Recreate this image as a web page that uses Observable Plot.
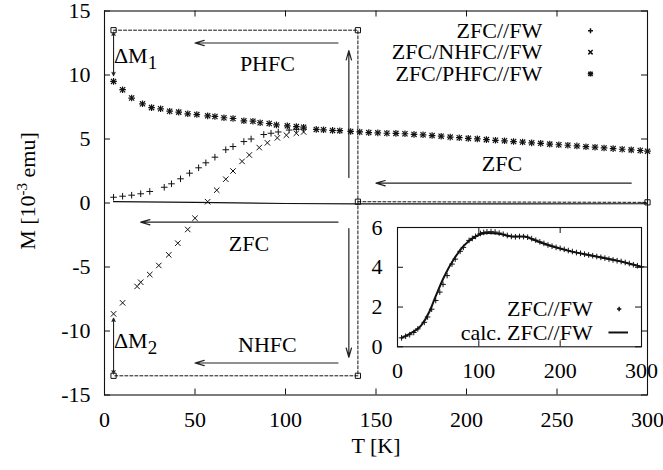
<!DOCTYPE html>
<html><head><meta charset="utf-8">
<script src="https://cdn.jsdelivr.net/npm/d3@7"></script>
<script src="https://cdn.jsdelivr.net/npm/@observablehq/plot@0.6"></script>
<style>
body{margin:0;background:#fff}
#wrap{position:relative;width:663px;height:470px}
#inset{position:absolute;left:356.7px;top:216.7px}
</style>
</head><body><div id="wrap"></div>
<script>
// ---- tick values ----
const xTicks = [0, 50, 100, 150, 200, 250, 300];
const yTicks = [-15, -10, -5, 0, 5, 10, 15];
const insetXTicks = [0, 100, 200, 300];
const insetYTicks = [0, 2, 4, 6];

// ---- series names ----
const seriesNames = ["ZFC//FW", "ZFC/NHFC//FW", "ZFC/PHFC//FW"];
const insetNames = ["ZFC//FW", "calc. ZFC//FW"];

// ---- ZFC//FW (measured, +) ----
const zfcT = [5,10,15,20,25,33,37,42,47,52,56,61,67,71,77,81,88,92,96,102,106,110,
  115,120,125,130,135,140,145,150,155,160,165,170,175,180,185,190,195,200,205,210,215,220,
  225,230,235,240,245,250,255,260,265,270,275,280,285,290,295,300];
const zfcM = [0.45,0.53,0.61,0.72,0.9,1.23,1.5,1.89,2.33,2.75,3.14,3.58,4.16,4.41,4.8,5.0,5.35,5.45,5.55,5.7,5.75,5.78,
  5.79,5.77,5.72,5.66,5.6,5.55,5.53,5.55,5.54,5.51,5.44,5.36,5.28,5.2,5.12,5.06,5.0,4.95,4.9,4.84,4.79,4.74,
  4.7,4.66,4.62,4.58,4.54,4.5,4.46,4.41,4.37,4.33,4.29,4.24,4.19,4.13,4.08,4.02];

// ---- ZFC/NHFC//FW (x) ----
const nhfcT = [5,10,18,20,25,30,35.5,40.5,46,50,57,62,67,71,76,80,85.5,90,95.5,100.5,106,110];
const nhfcM = [-8.66,-7.8,-6.52,-6.19,-5.59,-4.88,-4.05,-3.14,-2.07,-1.19,0.1,1.0,1.86,2.5,3.25,3.75,4.33,4.7,5.09,5.3,5.45,5.55];

// ---- ZFC/PHFC//FW (asterisk) ----
const phfcT = [5,10,15,21,26,31,36,41,46,51,57,61,66,71,77,82,86,91,95,101,106,110,117,121,126,130,136,141,146,151,
  156,161,166,171,176,181,186,191,196,201,206,211,216,221,226,231,236,241,246,251,256,261,266,271,276,281,286,291,296,300];
const phfcM = [9.5,8.85,8.2,7.75,7.45,7.36,7.17,7.1,6.97,6.91,6.81,6.76,6.66,6.6,6.42,6.39,6.27,6.21,6.1,6.03,5.97,5.92,5.75,5.72,5.67,5.65,5.59,5.55,5.5,5.48,
  5.45,5.44,5.41,5.36,5.33,5.27,5.22,5.15,5.1,5.05,5.01,4.95,4.9,4.86,4.8,4.76,4.7,4.66,4.6,4.55,4.51,4.46,4.4,4.36,4.3,4.25,4.2,4.15,4.1,4.05];

// ---- solid near-zero line ----
const baseT = [5, 50, 100, 140, 200, 300];
const baseM = [0.1, 0.05, -0.04, -0.07, -0.07, -0.06];

// ---- calculated ZFC//FW (inset line) ----
const calcT = [5,16,29,39,47,57,70,82,94,111,127,141,156,168,188,213,246,275,300];
const calcM = [0.45,0.68,1.06,1.75,2.55,3.5,4.45,5.1,5.5,5.72,5.67,5.55,5.55,5.37,5.08,4.8,4.53,4.29,4.02];

// ---- dashed guide path (field history), in data units ----
const guideSeg = ["a","a","a","a","b","b"];
const guideT = [5, 140, 140, 5, 140, 300];
const guideM = [13.5, 13.5, -13.5, -13.5, 0.1, 0.05];
const cornerT = [5, 140, 140, 300, 5, 140];
const cornerM = [13.5, 13.5, 0.1, 0.05, -13.5, -13.5];

// ---- annotation arrows (data units) ----
const arrowT1 = [129, 291, 129, 129, 135, 135];
const arrowM1 = [12.5, 1.55, -1.5, -12.5, 2.0, -2.0];
const arrowT2 = [50, 150, 20, 50, 135, 135];
const arrowM2 = [12.5, 1.55, -1.5, -12.5, 11.9, -12.05];
// small double arrows for ΔM
const dArrowT1 = [5, 5, 5, 5];
const dArrowM1 = [11.6, 11.6, -11.2, -11.2];
const dArrowM2 = [13.35, 9.95, -9.0, -13.35];

// ---- annotation labels ----
const labelText = ["PHFC", "ZFC", "ZFC", "NHFC"];
const labelT = [90, 219.6, 79.8, 90];
const labelM = [10.9, 3.06, -3.19, -11.1];
const deltaText = ["ΔM_{1}", "ΔM_{2}"];
const deltaT = [5.2, 5.2];
const deltaM = [11.45, -10.75];

// ---- legend placement (data units) ----
const legTextT = 241.8, legMarkT = 268.5;
const legM = [13.45, 11.78, 10.09];
const insLegTextT = 240, insLegMarkT = 272.5;
const insLegM = [1.9, 0.72];
const insLegLineT = [260, 284];

// ---- helpers ----
const rows = (T, M) => T.map((t, i) => ({T: t, M: M[i]}));
const plusSym = {draw(c, s) { const r = Math.sqrt(s / Math.PI); c.moveTo(-r, 0); c.lineTo(r, 0); c.moveTo(0, -r); c.lineTo(0, r); }};
const timesSym = {draw(c, s) { const r = Math.sqrt(s / Math.PI) * 0.72; c.moveTo(-r, -r); c.lineTo(r, r); c.moveTo(-r, r); c.lineTo(r, -r); }};
const squareSym = {draw(c, s) { const r = Math.sqrt(s / Math.PI); c.moveTo(-r, -r); c.lineTo(r, -r); c.lineTo(r, r); c.lineTo(-r, r); c.closePath(); }};

const FONT = {fontFamily: "'Liberation Serif', 'Times New Roman', serif", fontSize: "22px", color: "#000", background: "transparent", overflow: "visible"};
const INK = "#111";
const fmt = d => String(d);

function inwardTicks(xt, yt, fw, fh, len) {
  return [
    Plot.tickX(xt, {x: d => d, insetTop: fh - len, stroke: INK}),
    Plot.tickX(xt, {x: d => d, insetBottom: fh - len, stroke: INK}),
    Plot.tickY(yt, {y: d => d, insetRight: fw - len, stroke: INK}),
    Plot.tickY(yt, {y: d => d, insetLeft: fw - len, stroke: INK})
  ];
}

// ---- main chart ----
const W = 663, H = 470, mL = 104, mR = 16, mT = 10.5, mB = 75.5;
const fw = W - mL - mR, fh = H - mT - mB;

const zfcMain = rows(zfcT, zfcM).filter(d => d.T <= 112);
const nhfc = rows(nhfcT, nhfcM);
const phfc = rows(phfcT, phfcM);
const arrows = arrowT1.map((t, i) => ({x1: t, y1: arrowM1[i], x2: arrowT2[i], y2: arrowM2[i]}));
const dArrows = dArrowT1.map((t, i) => ({x1: t, y1: dArrowM1[i], x2: t, y2: dArrowM2[i]}));
const guide = guideT.map((t, i) => ({T: t, M: guideM[i], s: guideSeg[i]}));
const corners = rows(cornerT, cornerM);
const labels = labelText.map((s, i) => ({s, T: labelT[i], M: labelM[i]}));
const deltas = deltaText.map((s, i) => ({s, T: deltaT[i], M: deltaM[i]}));
const legend = seriesNames.map((s, i) => ({s, M: legM[i]}));

const main = Plot.plot({
  width: W, height: H, marginLeft: mL, marginRight: mR, marginTop: mT, marginBottom: mB,
  x: {domain: [0, 300]}, y: {domain: [-15, 15]},
  style: FONT,
  marks: [
    Plot.frame({stroke: INK, strokeWidth: 1.1}),
    ...inwardTicks(xTicks, yTicks, fw, fh, 6),
    Plot.axisX({ticks: xTicks, tickSize: 0, tickPadding: 16, tickFormat: fmt, label: null}),
    Plot.axisY({ticks: yTicks, tickSize: 0, tickPadding: 14, tickFormat: fmt, label: null}),
    Plot.text(["M [10^{-3} emu]"], {text: d => d, frameAnchor: "left", textAnchor: "middle", lineAnchor: "middle", dx: -77, dy: -12, rotate: -90}),
    Plot.text(["T [K]"], {text: d => d, frameAnchor: "bottom", textAnchor: "middle", lineAnchor: "middle", dy: 50.5}),
    Plot.line(rows(baseT, baseM), {x: "T", y: "M", stroke: INK, strokeWidth: 1.2}),
    Plot.line(guide, {x: "T", y: "M", z: "s", stroke: INK, strokeWidth: 1, strokeDasharray: "3,2"}),
    Plot.dot(corners, {x: "T", y: "M", symbol: squareSym, r: 2.6, stroke: INK, fill: "none", strokeWidth: 1}),
    Plot.arrow(arrows, {x1: "x1", y1: "y1", x2: "x2", y2: "y2", bend: 0, headLength: 12, headAngle: 32, stroke: "#222", strokeWidth: 1.2}),
    Plot.arrow(dArrows, {x1: "x1", y1: "y1", x2: "x2", y2: "y2", bend: 0, headLength: 5, headAngle: 50, stroke: "#222", strokeWidth: 1.1}),
    Plot.text(labels, {x: "T", y: "M", text: "s"}),
    Plot.text(deltas, {x: "T", y: "M", text: "s", textAnchor: "start"}),
    Plot.dot(zfcMain, {x: "T", y: "M", symbol: plusSym, r: 3.3, stroke: INK, fill: "none", strokeWidth: 1}),
    Plot.dot(nhfc, {x: "T", y: "M", symbol: timesSym, r: 3.8, stroke: INK, fill: "none", strokeWidth: 1}),
    Plot.dot(phfc, {x: "T", y: "M", symbol: plusSym, r: 3.3, stroke: INK, fill: "none", strokeWidth: 1.2}),
    Plot.dot(phfc, {x: "T", y: "M", symbol: timesSym, r: 3.6, stroke: INK, fill: "none", strokeWidth: 1.2}),
    Plot.text(legend, {x: () => legTextT, y: "M", text: "s", textAnchor: "end"}),
    Plot.dot(legend.slice(0, 1), {x: () => legMarkT, y: "M", symbol: plusSym, r: 2.5, stroke: INK, fill: "none"}),
    Plot.dot(legend.slice(1, 2), {x: () => legMarkT, y: "M", symbol: timesSym, r: 3.0, stroke: INK, fill: "none"}),
    Plot.dot(legend.slice(2, 3), {x: () => legMarkT, y: "M", symbol: plusSym, r: 2.7, stroke: INK, fill: "none"}),
    Plot.dot(legend.slice(2, 3), {x: () => legMarkT, y: "M", symbol: timesSym, r: 3.0, stroke: INK, fill: "none"})
  ]
});

// ---- inset ----
const iW = 300, iH = 170, iL = 40, iR = 16, iT = 10, iB = 40.7;
const ifw = iW - iL - iR, ifh = iH - iT - iB;
const insLeg = insetNames.map((s, i) => ({s, M: insLegM[i]}));
const inset = Plot.plot({
  width: iW, height: iH, marginLeft: iL, marginRight: iR, marginTop: iT, marginBottom: iB,
  x: {domain: [0, 300]}, y: {domain: [0, 6]},
  style: FONT,
  marks: [
    Plot.frame({stroke: INK, strokeWidth: 1.1}),
    ...inwardTicks(insetXTicks, insetYTicks, ifw, ifh, 6),
    Plot.axisX({ticks: insetXTicks, tickSize: 0, tickPadding: 15.5, tickFormat: fmt, label: null}),
    Plot.axisY({ticks: insetYTicks, tickSize: 0, tickPadding: 15, tickFormat: fmt, label: null}),
    Plot.line(rows(calcT, calcM), {x: "T", y: "M", curve: "monotone-x", stroke: INK, strokeWidth: 2}),
    Plot.dot(rows(zfcT, zfcM), {x: "T", y: "M", symbol: plusSym, r: 2.8, stroke: INK, fill: "none", strokeWidth: 1}),
    Plot.text(insLeg, {x: () => insLegTextT, y: "M", text: "s", textAnchor: "end"}),
    Plot.dot(insLeg.slice(0, 1), {x: () => insLegMarkT, y: "M", symbol: plusSym, r: 2.2, stroke: INK, fill: "none"}),
    Plot.ruleY(insLeg.slice(1, 2), {y: "M", x1: () => insLegLineT[0], x2: () => insLegLineT[1], stroke: INK, strokeWidth: 2})
  ]
});
inset.id = "inset";

// ---- sub/superscript markup ----
function markup(svg) {
  d3.select(svg).selectAll("text").each(function () {
    const t = this.textContent;
    if (!/[_^]\{/.test(t)) return;
    const el = d3.select(this);
    el.text(null);
    const re = /([_^])\{([^}]*)\}|([^_^]+)/g;
    let m, pending = 0;
    while ((m = re.exec(t))) {
      if (m[3]) {
        const ts = el.append("tspan").text(m[3]);
        if (pending) { ts.attr("dy", pending); pending = 0; }
      } else {
        const sup = m[1] === "^";
        const sh = sup ? -8 : 6;
        el.append("tspan").attr("dy", sh).attr("font-size", sup ? "15px" : "19px").text(m[2]);
        pending = -sh;
      }
    }
  });
}
markup(main); markup(inset);

const wrap = document.getElementById("wrap");
wrap.appendChild(main);
wrap.appendChild(inset);
</script></body></html>
